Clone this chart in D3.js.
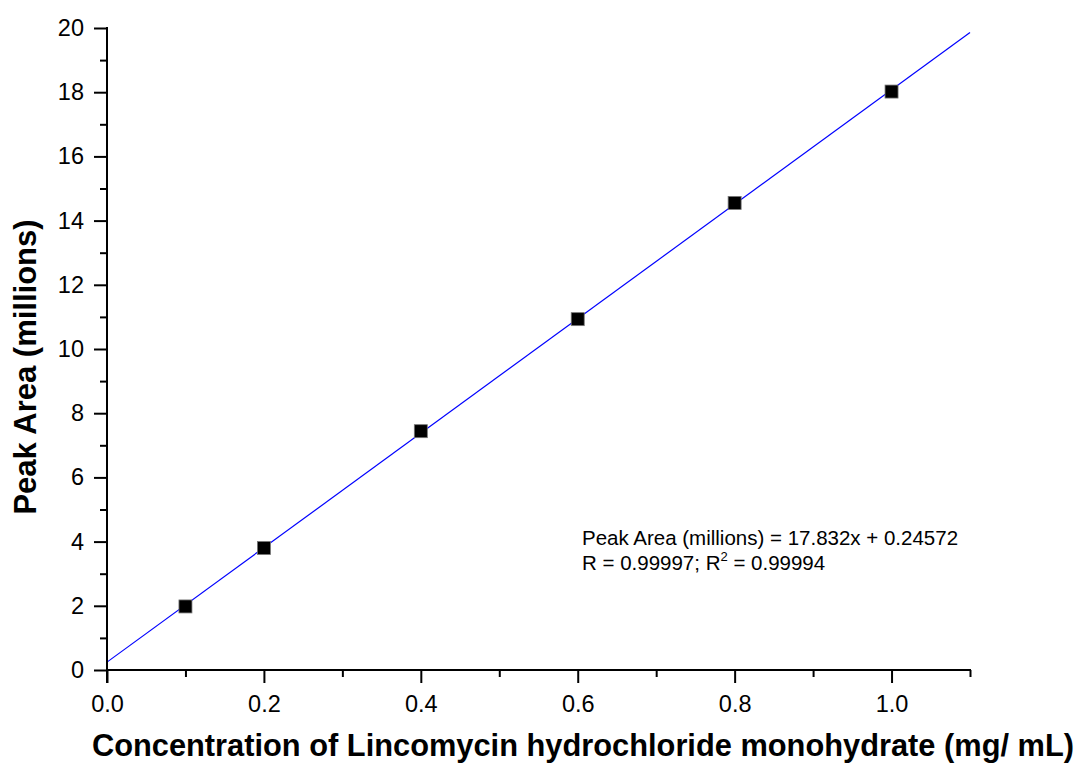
<!DOCTYPE html>
<html>
<head>
<meta charset="utf-8">
<script src="https://cdn.jsdelivr.net/npm/d3@7"></script>
<style>
  html, body { margin: 0; padding: 0; background: #fff; }
  svg { display: block; }
  svg text { font-family: Arial, "Liberation Sans", sans-serif; }
</style>
</head>
<body>
<svg id="chart" width="1081" height="764"></svg>
<script>
// Calibration standards: concentration (mg/mL) vs measured peak area (millions)
const concentrations = [0.1, 0.2, 0.4, 0.6, 0.8, 1.0];
const peakAreas = [1.98, 3.80, 7.44, 10.93, 14.55, 18.02];

// Linear fit reported for the calibration
const fitSlope = 17.832;
const fitIntercept = 0.24572;
const fitRange = [0, 1.1];

const xMajorTicks = [0, 0.2, 0.4, 0.6, 0.8, 1.0];
const xMinorTicks = [0.1, 0.3, 0.5, 0.7, 0.9, 1.1];
const yMajorTicks = [0, 2, 4, 6, 8, 10, 12, 14, 16, 18, 20];
const yMinorTicks = [1, 3, 5, 7, 9, 11, 13, 15, 17, 19];

const xTitle = "Concentration of Lincomycin hydrochloride monohydrate (mg/ mL)";
const yTitle = "Peak Area (millions)";
const eqLine = "Peak Area (millions) = 17.832x + 0.24572";

const margin = { left: 107, right: 111, top: 28, bottom: 94 };
const W = 1081, H = 764;
const FONT = "Arial, 'Liberation Sans', sans-serif";

const svg = d3.select("#chart");
const x = d3.scaleLinear().domain([0, 1.1]).range([margin.left, W - margin.right]);
const y = d3.scaleLinear().domain([0, 20]).range([H - margin.bottom, margin.top]);

// Fit line
const fitData = fitRange.map(v => [v, fitSlope * v + fitIntercept]);
svg.append("path")
  .datum(fitData)
  .attr("d", d3.line().x(d => x(d[0])).y(d => y(d[1])))
  .attr("fill", "none")
  .attr("stroke", "#0000ff")
  .attr("stroke-width", 1.2);

// Axes
const xAxisMajor = d3.axisBottom(x).tickValues(xMajorTicks).tickFormat(d3.format(".1f")).tickSize(13).tickSizeOuter(0);
const xAxisMinor = d3.axisBottom(x).tickValues(xMinorTicks).tickFormat("").tickSize(7).tickSizeOuter(0);
const yAxisMajor = d3.axisLeft(y).tickValues(yMajorTicks).tickFormat(d3.format("d")).tickSize(13).tickSizeOuter(0);
const yAxisMinor = d3.axisLeft(y).tickValues(yMinorTicks).tickFormat("").tickSize(7).tickSizeOuter(0);

function styleAxis(g) {
  g.attr("font-size", 23.5).attr("font-family", FONT);
  g.selectAll("path, line").attr("stroke", "#000").attr("stroke-width", 2);
  g.selectAll("text").attr("fill", "#000");
}

const gx = svg.append("g").attr("transform", `translate(0,${H - margin.bottom})`);
gx.append("g").call(xAxisMinor).call(styleAxis);
gx.append("g").call(xAxisMajor).call(styleAxis);
gx.selectAll("text").attr("y", 42).attr("dy", 0);
gx.selectAll(".domain").attr("d", `M${x(0) - 1},0H${x(1.1) + 1}`);

const gy = svg.append("g").attr("transform", `translate(${margin.left},0)`);
gy.append("g").call(yAxisMinor).call(styleAxis);
gy.append("g").call(yAxisMajor).call(styleAxis);
gy.selectAll("text").attr("x", -23);
gy.selectAll(".domain").attr("d", `M0,${y(20) - 1}V${y(0) + 13}`);

// Data markers
const ms = 13;
svg.append("g").selectAll("rect")
  .data(concentrations.map((c, i) => [c, peakAreas[i]]))
  .join("rect")
  .attr("x", d => x(d[0]) - ms / 2)
  .attr("y", d => y(d[1]) - ms / 2)
  .attr("width", ms)
  .attr("height", ms)
  .attr("fill", "#000")
  .attr("stroke", "#777")
  .attr("stroke-width", 0.8);

// Axis titles
svg.append("text")
  .attr("x", 583)
  .attr("y", 756)
  .attr("text-anchor", "middle")
  .attr("font-size", 30.8)
  .attr("font-weight", "bold")
  .text(xTitle);

svg.append("text")
  .attr("transform", `translate(36,367) rotate(-90)`)
  .attr("text-anchor", "middle")
  .attr("font-size", 31)
  .attr("font-weight", "bold")
  .text(yTitle);

// Fit annotation
const ann = svg.append("g").attr("font-size", 20.5).attr("fill", "#000");
ann.append("text").attr("x", 582).attr("y", 545).text(eqLine);
const t2 = ann.append("text").attr("x", 582).attr("y", 570);
t2.append("tspan").text("R = 0.99997; R");
t2.append("tspan").attr("font-size", 13).attr("dy", -9).text("2");
t2.append("tspan").attr("dy", 9).text(" = 0.99994");
</script>
</body>
</html>
